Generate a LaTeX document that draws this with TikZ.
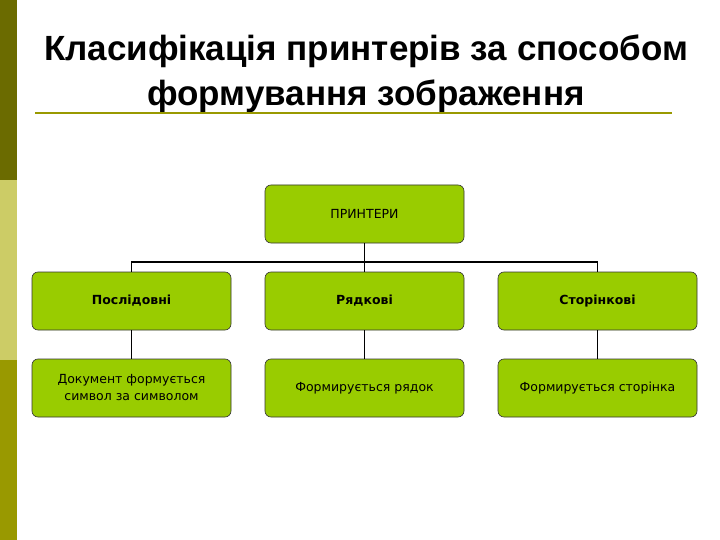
\documentclass[tikz,border=0pt]{standalone}
\usepackage{fontspec}
\setmainfont{Liberation Sans}
\newfontfamily\boxfont{DejaVu Sans}
\definecolor{boxg}{HTML}{99CC00}
\definecolor{ol1}{HTML}{6B6B00}
\definecolor{ol2}{HTML}{CCCC66}
\definecolor{ol3}{HTML}{999900}
\begin{document}
\begin{tikzpicture}[x=1pt,y=-1pt,
 bx/.style={draw=black!80,fill=boxg,rounded corners=6pt,minimum width=199pt,minimum height=58pt,align=center,font=\boxfont\fontsize{12.5}{17}\selectfont,line width=0.6pt},
 ln/.style={line width=1.6pt}]
\useasboundingbox (0,0) rectangle (720,540);
\fill[white] (0,0) rectangle (720,540);
\fill[ol1] (0,0) rectangle (17,180);
\fill[ol2] (0,180) rectangle (17,360);
\fill[ol3] (0,360) rectangle (17,540);
\node[font=\bfseries\fontsize{35}{45}\selectfont,align=center,inner sep=0pt] (t) at (366,74) {Класифікація принтерів за способом\\формування зображення};
\coordinate (u1) at (35,113); \coordinate (u2) at (672,113);
\draw[line width=1.2pt,ol3] (u1) -- (u2);
\node[bx] (p) at (364.5,214) {ПРИНТЕРИ};
\node[bx] (a) at (131.5,301) {\bfseries Послідовні};
\node[bx] (b) at (364.5,301) {\bfseries Рядкові};
\node[bx] (c) at (597.5,301) {\bfseries Сторінкові};
\node[bx] (a2) at (131.5,388) {Документ формується\\символ за символом};
\node[bx] (b2) at (364.5,388) {Формирується рядок};
\node[bx] (c2) at (597.5,388) {Формирується сторінка};
\coordinate (j) at (364.5,262);
\draw[ln] (p.south) -- (j) -| (a.north);
\draw[ln] (j) -| (c.north);
\draw[ln] (p.south) -- (b.north);
\draw[ln] (a) -- (a2); \draw[ln] (b) -- (b2); \draw[ln] (c) -- (c2);
\end{tikzpicture}
\end{document}
